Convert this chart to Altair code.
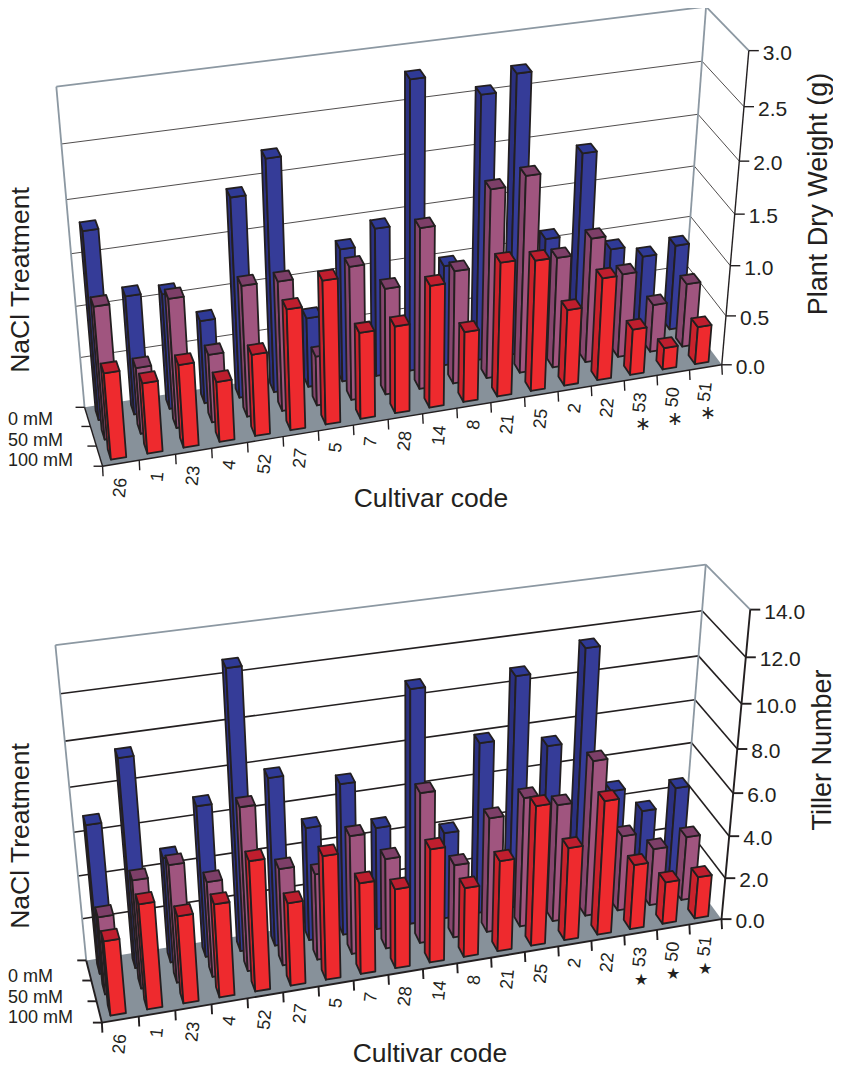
import numpy as np
import altair as alt

CULTIVARS = ["26","1","23","4","52","27","5","7","28","14","8","21","25","2","22","53","50","51"]
DRY_0   = [1.82,1.16,1.13,0.82,1.94,2.25,0.69,1.31,1.46,2.79,1.00,2.57,2.72,1.12,1.90,0.92,0.80,0.86]
DRY_50  = [1.29,0.65,1.26,0.67,1.28,1.27,0.49,1.31,1.05,1.58,1.12,1.85,1.93,1.10,1.24,0.84,0.48,0.64]
DRY_100 = [0.84,0.69,0.81,0.59,0.80,1.18,1.40,0.85,0.86,1.20,0.70,1.32,1.29,0.76,1.02,0.46,0.22,0.38]
TIL_0   = [6.88,9.57,4.91,7.01,12.73,7.80,5.31,7.07,4.83,10.82,4.11,8.02,10.77,7.45,11.59,4.91,3.73,4.59]
TIL_50  = [3.61,5.03,5.46,4.44,7.55,4.53,4.04,5.54,4.24,7.01,3.46,5.40,6.09,5.53,7.32,3.60,2.74,3.07]
TIL_100 = [3.45,4.85,4.05,4.33,6.01,3.86,5.74,4.26,3.73,5.31,3.27,4.27,6.54,4.38,6.30,3.09,2.02,2.01]

FACE = {"100 mM":("#EE2A2E","#BF1E2E","#C9222C"),"50 mM":("#A0557F","#7D3F68","#86466E"),"0 mM":("#353C98","#2F3A96","#2B3080")}
OX, OY = 8, 8
BAR_W, BAR_D, BAR_C = 0.42, 0.5, 0.48

def fit(c):
    A = []
    for (u, v, w, x, y) in c:
        X = [u/18, v/3, w, 1]
        x /= 1000; y /= 1000
        A.append(X+[0]*4+[-x*k for k in X]); A.append([0]*4+X+[-y*k for k in X])
    return np.linalg.svd(np.array(A))[2][-1].reshape(3, 4)

def cal(E, D, fx, left, back, right, lft):
    c = []
    for i, x in enumerate(fx):
        t = (x-E[0])/(D[0]-E[0]); c.append((i, 0, 0, x, E[1]+t*(D[1]-E[1])))
    for v, (x, y) in enumerate(left): c.append((0, v, 0, x, y))
    n = len(right)-1
    for k, (x, y) in enumerate(right): c.append((18, 0, k/n, x, y))
    for k, (x, y) in back: c.append((18, 3, k, x, y))
    for k, (x, y) in lft: c.append((0, 3, k, x, y))
    return fit(c)

P1 = cal((101.7,467.3),(722.3,364),[101.7,140,176,212,248,284,319,353,388,423,457,491,524,558,591,624.7,656.7,689,722.3],
 [(101.7,467.3),(95,445.7),(90,425.7),(85,405)],
 [(0,(682,321)),(1/3,(690,216.7)),(1/2,(694.7,163.7)),(2/3,(698.3,112.7)),(5/6,(702.7,61)),(1,(706,6))],
 [(722.3,364),(726,313),(730,265),(735,213),(739.3,162.7),(744,106.7),(748.3,52.7)],
 [(0,(85,405)),(1/2,(71.7,253.3)),(2/3,(66.7,199.3)),(5/6,(61.7,145.7)),(1,(55,87))])
P2 = cal((101.7,1022.7),(721.7,919.3),[101.7,138.3,176.7,212.3,247.7,283.3,319,354.3,388.3,423.3,456.7,490,526,558,591.7,624,656,689,721.7],
 [(101.7,1022.7),(94.3,1001.7),(90.7,980.7),(86.7,960)],
 [(0,(680,868)),(2/7,(688,784)),(3/7,(691.7,742.7)),(4/7,(696,698)),(5/7,(699,656)),(6/7,(703,610.7)),(1,(705.3,565))],
 [(721.7,919.3),(726,876.7),(730,835),(733.3,792),(736.7,749),(741.7,704),(745,658),(750,610)],
 [(0,(86.7,960)),(1/7,(82.7,917.7)),(2/7,(78.3,876.7)),(3/7,(73,830.7)),(4/7,(70,787)),(5/7,(65.7,742)),(6/7,(60,694)),(1,(54,646))])

def pr(P, u, v, w):
    q = P @ np.array([u/18, v/3, w, 1])
    return [float(q[0]/q[2]*1000-OX), float(q[1]/q[2]*1000-OY)]

def poly(pts, fill):
    return {"type":"Feature","properties":{"fill":fill},"geometry":{"type":"Polygon","coordinates":[pts+[pts[0]]]}}

def line(a, b, col, w):
    return {"type":"Feature","properties":{"c":col,"w":w},"geometry":{"type":"LineString","coordinates":[a,b]}}

def bars(P, series, zmax):
    out = []
    for r, name, vals in series:
        fr, top, side = FACE[name]
        for i, val in enumerate(vals):
            z = val/zmax
            u0, u1 = i+BAR_C-BAR_W/2, i+BAR_C+BAR_W/2
            v0, v1 = r+.5-BAR_D/2, r+.5+BAR_D/2
            out.append(poly([pr(P,u0,v1,0),pr(P,u0,v0,0),pr(P,u0,v0,z),pr(P,u0,v1,z)], side))
            out.append(poly([pr(P,u0,v0,0),pr(P,u1,v0,0),pr(P,u1,v0,z),pr(P,u0,v0,z)], fr))
            out.append(poly([pr(P,u0,v0,z),pr(P,u1,v0,z),pr(P,u1,v1,z),pr(P,u0,v1,z)], top))
    return out

GREY, DARK = "#8C98A2", "#231F20"
under, floors, over, bar_feats, texts = [], [], [], [], {}

def add_text(key, x, y, t):
    texts.setdefault(key, []).append({"x":x, "y":y, "t":t})

def panel(P, series, zmax, nticks, ticklabels, gridw, axw, star, star_size, star_dx, star_dy, title, nacl_y, ylab_y, ylab_x, cult_x, cult_y, leg_y):
    A, B = pr(P,0,3,1), pr(P,18,3,1)
    C, D = pr(P,18,0,1), pr(P,18,0,0)
    E, F, G = pr(P,0,0,0), pr(P,0,3,0), pr(P,18,3,0)
    floors.append(poly([E,D,G,F], "#87919A"))
    for k in range(1, nticks):
        z = k/nticks
        under.append(line(pr(P,0,3,z), pr(P,18,3,z), DARK, gridw))
        under.append(line(pr(P,18,3,z), pr(P,18,0,z), DARK, gridw))
    for a, b in ((A,B),(A,F),(B,G),(B,C)):
        under.append(line(a, b, GREY, 1.8))
    for a, b in ((C,D),(E,D),(E,F)):
        over.append(line(a, b, DARK, axw))
    for i in range(19):
        p = pr(P,i,0,0); over.append(line(p, [p[0]+0.5, p[1]+10], DARK, axw))
    for v in range(4):
        p = pr(P,0,v,0); over.append(line(p, [p[0]-9, p[1]], DARK, axw))
    for k in range(nticks+1):
        p = pr(P,18,0,k/nticks); over.append(line(p, [p[0]+10, p[1]], DARK, axw))
        add_text(("r",21,0,"left","alphabetic"), p[0]+14, p[1]+9, ticklabels[k])
    for i, c in enumerate(CULTIVARS):
        p = pr(P,i+.5,0,0)
        add_text(("t",18,276,"right","alphabetic"), p[0]+6, p[1]+15, c)
        if i >= 15:
            add_text(("s"+star,star_size,0,"center","middle"), p[0]+star_dx, p[1]+star_dy, star)
    bar_feats.extend(bars(P, series, zmax))
    add_text(("NaCl",26.5,270,"center","alphabetic"), 28.5-OX, nacl_y-OY, "NaCl Treatment")
    add_text(("y",27,270,"center","alphabetic"), ylab_x-OX, ylab_y-OY, title)
    add_text(("c",26.5,0,"center","alphabetic"), cult_x-OX, cult_y-OY, "Cultivar code")
    for y, t in zip(leg_y, ("0 mM","50 mM","100 mM")):
        add_text(("l",18,0,"left","alphabetic"), 0, y-OY, t)

panel(P1, [(2,"0 mM",DRY_0),(1,"50 mM",DRY_50),(0,"100 mM",DRY_100)], 3.0, 6,
      ["0.0","0.5","1.0","1.5","2.0","2.5","3.0"], 0.8, 1.4, "\u2217", 19, 2, 46, "Plant Dry Weight (g)", 280, 194, 827, 431, 506.7, (425,445.7,466))
panel(P2, [(2,"0 mM",TIL_0),(1,"50 mM",TIL_50),(0,"100 mM",TIL_100)], 14.0, 7,
      ["0.0","2.0","4.0","6.0","8.0","10.0","12.0","14.0"], 1.6, 1.9, "\u2605", 16, 0, 47, "Tiller Number", 836, 750, 831, 430, 1061.5, (981.7,1002.7,1022.7))

W, H = 825, 1054

def geo(feats, **kw):
    return alt.Chart(alt.Data(values=feats)).mark_geoshape(**kw).project(type="identity", scale=1, translate=[0,0])

lines_enc = dict(stroke=alt.Stroke("properties.c:N", scale=None), strokeWidth=alt.StrokeWidth("properties.w:Q", scale=None))
layers = [
    geo(under, filled=False).encode(**lines_enc),
    geo(floors, stroke=None).encode(fill=alt.Fill("properties.fill:N", scale=None)),
    geo(bar_feats, stroke=DARK, strokeWidth=1.8, strokeJoin="round").encode(fill=alt.Fill("properties.fill:N", scale=None)),
    geo(over, filled=False).encode(**lines_enc),
]
xs = alt.Scale(domain=[0,W], range=[0,W], nice=False, zero=False)
ys = alt.Scale(domain=[0,H], range=[0,H], nice=False, zero=False)
for (k, size, ang, al, bl), rows in texts.items():
    kw = dict(fontSize=size, align=al, font="Liberation Sans", color="#231F20", baseline=bl)
    if ang: kw["angle"] = ang
    layers.append(alt.Chart(alt.Data(values=rows)).mark_text(**kw).encode(
        x=alt.X("x:Q", scale=xs, axis=None), y=alt.Y("y:Q", scale=ys, axis=None), text="t:N"))

chart = alt.layer(*layers).properties(width=W, height=H, padding=0, autosize=alt.AutoSizeParams(type="none")).configure_view(strokeWidth=0)
chart.save("out.html", embed_options={"renderer": "svg", "actions": False})
